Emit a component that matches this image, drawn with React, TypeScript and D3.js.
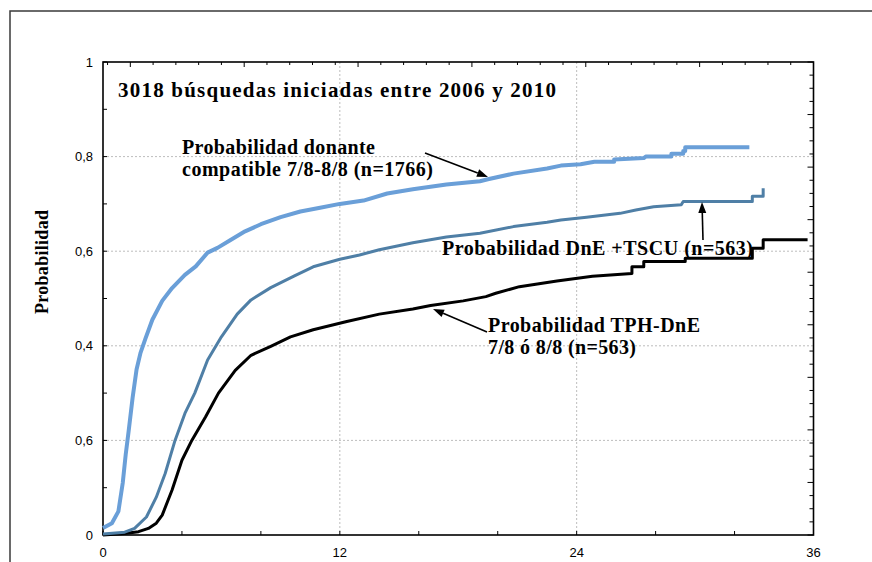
import React from "react";
import * as d3 from "d3";

const W = 872;
const H = 562;

// x tick labels (months) and y tick labels (as printed, including the original's label at 0.2)
const xTickValues = [0, 12, 24, 36];
const yTickValues = [0, 0.2, 0.4, 0.6, 0.8, 1];
const yTickLabels = ["0", "0,6", "0,4", "0,6", "0,8", "1"];

// Probabilidad donante compatible 7/8-8/8 (n=1766)
const donanteT = [0, 0.45, 0.78, 1.0, 1.15, 1.3, 1.5, 1.7, 1.9, 2.15, 2.5, 3.0, 3.5, 4.15, 4.7, 5.3, 5.8, 6.4, 7.2, 8.0, 9.0, 10.0, 11.0, 12.0, 13.2, 14.4, 15.7, 17.4, 19.1, 19.5, 20.8, 22.5, 23.2, 24.2, 24.9, 25.9, 25.9, 27.4, 27.5, 28.8, 28.8, 29.4, 29.4, 29.5, 29.5, 32.75];
const donanteP = [0.015, 0.025, 0.05, 0.11, 0.17, 0.22, 0.29, 0.35, 0.385, 0.415, 0.455, 0.495, 0.522, 0.55, 0.568, 0.597, 0.607, 0.622, 0.642, 0.657, 0.672, 0.684, 0.692, 0.7, 0.707, 0.722, 0.731, 0.741, 0.748, 0.752, 0.764, 0.775, 0.781, 0.784, 0.789, 0.789, 0.794, 0.797, 0.8, 0.8, 0.806, 0.806, 0.812, 0.812, 0.82, 0.82];

// Probabilidad DnE +TSCU (n=563)
const tscuT = [0, 1.1, 1.6, 2.2, 2.7, 3.15, 3.65, 4.15, 4.65, 5.3, 6.0, 6.8, 7.5, 8.5, 9.7, 10.65, 12.0, 13.0, 14.0, 15.7, 17.4, 19.1, 20.8, 22.5, 23.2, 24.5, 26.2, 27.0, 27.9, 29.3, 29.4, 32.9, 32.9, 33.45, 33.45];
const tscuP = [0.002, 0.006, 0.014, 0.038, 0.08, 0.13, 0.2, 0.257, 0.3, 0.37, 0.419, 0.467, 0.497, 0.523, 0.548, 0.567, 0.583, 0.592, 0.603, 0.618, 0.63, 0.638, 0.652, 0.661, 0.666, 0.672, 0.68, 0.687, 0.694, 0.698, 0.705, 0.705, 0.716, 0.716, 0.733];

// Probabilidad TPH-DnE 7/8 ó 8/8 (n=563)
const tphT = [0, 1.1, 1.8, 2.3, 2.7, 3.0, 3.5, 4.0, 4.5, 5.2, 5.85, 6.7, 7.5, 8.5, 9.5, 10.65, 12.3, 14.0, 15.7, 16.6, 18.25, 19.4, 19.9, 21.1, 23.0, 24.8, 26.8, 26.8, 27.4, 27.4, 29.5, 29.5, 32.9, 32.9, 33.45, 33.45, 35.7];
const tphP = [0, 0.003, 0.007, 0.014, 0.025, 0.042, 0.095, 0.158, 0.2, 0.25, 0.3, 0.348, 0.38, 0.399, 0.419, 0.434, 0.451, 0.467, 0.478, 0.485, 0.495, 0.504, 0.511, 0.525, 0.537, 0.547, 0.553, 0.567, 0.567, 0.578, 0.578, 0.585, 0.585, 0.606, 0.606, 0.624, 0.624];

const left = 103;
const right = 813.5;
const top = 62;
const bottom = 535;

const x = d3.scaleLinear().domain([0, 36]).range([left, right]);
const y = d3.scaleLinear().domain([0, 1]).range([bottom, top]);
// secondary frame scales used only for the tick marks on the top and right borders
const xTop = d3.scaleLinear().domain([156, 0]).range([left, right]);
const yRight = d3.scaleLinear().domain([0, 36]).range([bottom, top]);

const line = d3
  .line<[number, number]>()
  .x((d) => x(d[0]))
  .y((d) => y(d[1]));

const zip = (t: number[], p: number[]) => t.map((v, i) => [v, p[i]] as [number, number]);

const serif = "'Liberation Serif', 'Times New Roman', serif";
const sans = "'Liberation Sans', Arial, sans-serif";

function Arrow({ x1, y1, x2, y2 }: { x1: number; y1: number; x2: number; y2: number }) {
  const ang = Math.atan2(y2 - y1, x2 - x1);
  const L = 11;
  const wdt = 4;
  const bx = x2 - L * Math.cos(ang);
  const by = y2 - L * Math.sin(ang);
  const px = -Math.sin(ang) * wdt;
  const py = Math.cos(ang) * wdt;
  return (
    <g>
      <line x1={x1} y1={y1} x2={bx} y2={by} stroke="#000" strokeWidth={1.6} />
      <polygon points={`${x2},${y2} ${bx + px},${by + py} ${bx - px},${by - py}`} fill="#000" />
    </g>
  );
}

export default function App() {
  const leftTicks = d3.range(0, 1.0001, 0.1);
  const bottomTicks = d3.range(0, 36.001, 4);
  const topTicks = d3.range(0, 156, 5);
  const rightTicks = d3.range(0, 36.001, 1);

  return (
    <svg width={W} height={H} style={{ position: "absolute", left: 0, top: 0, background: "#fff" }}>
      <rect x={0} y={0} width={W} height={H} fill="#fff" />
      {/* outer frame */}
      <rect x={10} y={11} width={W + 20} height={H + 20} fill="none" stroke="#3a3a3a" strokeWidth={1.5} />

      {/* grid */}
      {[0.2, 0.4, 0.6, 0.8].map((v) => (
        <line key={"gy" + v} x1={left} x2={right} y1={y(v)} y2={y(v)} stroke="#bdbdbd" strokeWidth={1} strokeDasharray="2,2" />
      ))}
      {[12, 24].map((v) => (
        <line key={"gx" + v} x1={x(v)} x2={x(v)} y1={top} y2={bottom} stroke="#bdbdbd" strokeWidth={1} strokeDasharray="2,2" />
      ))}

      {/* ticks */}
      {leftTicks.map((v) => (
        <line key={"lt" + v} x1={left} x2={left + 4} y1={y(v)} y2={y(v)} stroke="#000" strokeWidth={1} />
      ))}
      {bottomTicks.map((v) => (
        <line key={"bt" + v} x1={x(v)} x2={x(v)} y1={bottom} y2={bottom - 4} stroke="#000" strokeWidth={1} />
      ))}
      {topTicks.map((v) => (
        <line key={"tt" + v} x1={xTop(v)} x2={xTop(v)} y1={top} y2={top + (v % 25 === 0 ? 5 : 3)} stroke="#000" strokeWidth={1} />
      ))}
      {rightTicks.map((v) => (
        <line key={"rt" + v} x1={right} x2={right - (v % 4 === 0 ? 6 : 4)} y1={yRight(v)} y2={yRight(v)} stroke="#000" strokeWidth={1} />
      ))}

      {/* plot border */}
      <rect x={left} y={top} width={right - left} height={bottom - top} fill="none" stroke="#000" strokeWidth={1.6} />

      {/* tick labels */}
      {yTickValues.map((v, i) => (
        <text key={"yl" + v} x={93} y={y(v)} dy="0.35em" textAnchor="end" fontFamily={sans} fontSize={13} fill="#000">
          {yTickLabels[i]}
        </text>
      ))}
      {xTickValues.map((v) => (
        <text key={"xl" + v} x={x(v)} y={557} textAnchor="middle" fontFamily={sans} fontSize={13} fill="#000">
          {v}
        </text>
      ))}

      {/* curves */}
      <path d={line(zip(tphT, tphP)) || ""} fill="none" stroke="#000" strokeWidth={3} strokeLinejoin="round" />
      <path d={line(zip(tscuT, tscuP)) || ""} fill="none" stroke="#4f7fa6" strokeWidth={3} strokeLinejoin="round" />
      <path d={line(zip(donanteT, donanteP)) || ""} fill="none" stroke="#6a9fd8" strokeWidth={4} strokeLinejoin="round" />

      {/* y axis title */}
      <text
        transform="translate(48,262) rotate(-90)"
        textAnchor="middle"
        fontFamily={serif}
        fontWeight="bold"
        fontSize={18}
        textLength={104}
        lengthAdjust="spacing"
        fill="#000"
      >
        Probabilidad
      </text>

      {/* title */}
      <text x={118} y={97} fontFamily={serif} fontWeight="bold" fontSize={21} textLength={438} lengthAdjust="spacing" fill="#000">
        3018 búsquedas iniciadas entre 2006 y 2010
      </text>

      {/* annotations */}
      <text x={182} y={154} fontFamily={serif} fontWeight="bold" fontSize={20} textLength={193} lengthAdjust="spacing" fill="#000">
        Probabilidad donante
      </text>
      <text x={182} y={176} fontFamily={serif} fontWeight="bold" fontSize={20} textLength={251} lengthAdjust="spacing" fill="#000">
        compatible 7/8-8/8 (n=1766)
      </text>
      <text x={442} y={255} fontFamily={serif} fontWeight="bold" fontSize={20} textLength={311} lengthAdjust="spacing" fill="#000">
        Probabilidad DnE +TSCU (n=563)
      </text>
      <text x={488} y={332} fontFamily={serif} fontWeight="bold" fontSize={20} textLength={212} lengthAdjust="spacing" fill="#000">
        Probabilidad TPH-DnE
      </text>
      <text x={488} y={354} fontFamily={serif} fontWeight="bold" fontSize={20} textLength={148} lengthAdjust="spacing" fill="#000">
        7/8 ó 8/8 (n=563)
      </text>

      <Arrow x1={425} y1={153} x2={488} y2={177} />
      <Arrow x1={703} y1={240} x2={702} y2={202} />
      <Arrow x1={487} y1={332} x2={433} y2={309} />
    </svg>
  );
}
